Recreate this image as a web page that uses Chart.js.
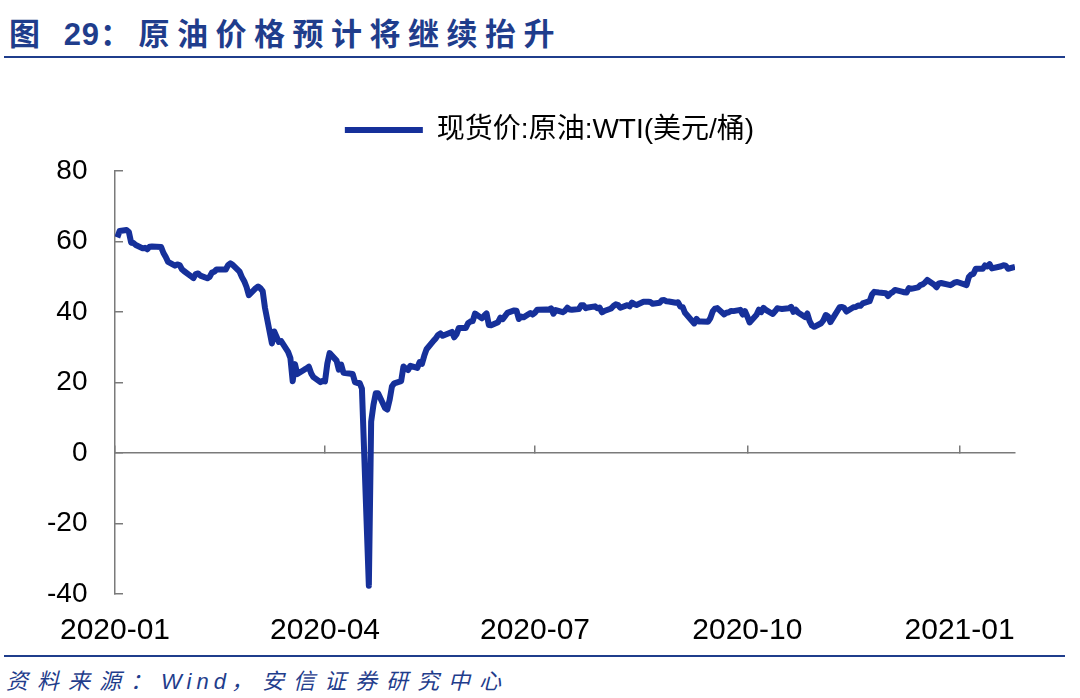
<!DOCTYPE html>
<html>
<head>
<meta charset="utf-8">
<script src="https://cdn.jsdelivr.net/npm/chart.js@4"></script>
<style>
  body { margin: 0; background: #fff; width: 1080px; height: 698px; position: relative; overflow: hidden; }
  #title { position: absolute; left: 9px; top: 9px; font: bold 31px "Liberation Sans", "Noto Sans CJK SC", sans-serif; color: #1f3d8c; letter-spacing: 7.5px; white-space: nowrap; }
  #title .num { letter-spacing: 1px; }
  .rule { position: absolute; left: 4px; width: 1061px; height: 2px; background: #1f3d8c; }
  #source { position: absolute; left: 6px; top: 663px; font: italic 22px "Liberation Sans", "Noto Sans CJK SC", sans-serif; color: #1f3d8c; letter-spacing: 9px; white-space: nowrap; }
  #source .en { letter-spacing: 5px; }
  #wrap { position: absolute; left: 0; top: 68px; width: 1080px; height: 582px; }
</style>
</head>
<body>
<div id="title">图 <span class="num">29</span>：原油价格预计将继续抬升</div>
<div class="rule" style="top:56px"></div>
<div id="wrap"><canvas id="oilChart"></canvas></div>
<div class="rule" style="top:655px"></div>
<div id="source">资料来源：<span class="en">Wind</span>，安信证券研究中心</div>

<script>
// 現貨價: 原油 WTI (美元/桶), 交易日
const dates = [
  '2020-01-02','2020-01-03','2020-01-06','2020-01-07','2020-01-08','2020-01-09','2020-01-10','2020-01-13','2020-01-14','2020-01-15','2020-01-16','2020-01-17','2020-01-21','2020-01-22','2020-01-23','2020-01-24','2020-01-27','2020-01-28','2020-01-29','2020-01-30','2020-01-31',
  '2020-02-03','2020-02-04','2020-02-05','2020-02-06','2020-02-07','2020-02-10','2020-02-11','2020-02-12','2020-02-13','2020-02-14','2020-02-18','2020-02-19','2020-02-20','2020-02-21','2020-02-24','2020-02-25','2020-02-26','2020-02-27','2020-02-28',
  '2020-03-02','2020-03-03','2020-03-04','2020-03-05','2020-03-06','2020-03-09','2020-03-10','2020-03-11','2020-03-12','2020-03-13','2020-03-16','2020-03-17','2020-03-18','2020-03-19','2020-03-20','2020-03-23','2020-03-24','2020-03-25','2020-03-26','2020-03-27','2020-03-30','2020-03-31',
  '2020-04-01','2020-04-02','2020-04-03','2020-04-06','2020-04-07','2020-04-08','2020-04-09','2020-04-13','2020-04-14','2020-04-15','2020-04-16','2020-04-17','2020-04-20','2020-04-21','2020-04-22','2020-04-23','2020-04-24','2020-04-27','2020-04-28','2020-04-29','2020-04-30',
  '2020-05-01','2020-05-04','2020-05-05','2020-05-06','2020-05-07','2020-05-08','2020-05-11','2020-05-12','2020-05-13','2020-05-14','2020-05-15','2020-05-18','2020-05-19','2020-05-20','2020-05-21','2020-05-22','2020-05-26','2020-05-27','2020-05-28','2020-05-29',
  '2020-06-01','2020-06-02','2020-06-03','2020-06-04','2020-06-05','2020-06-08','2020-06-09','2020-06-10','2020-06-11','2020-06-12','2020-06-15','2020-06-16','2020-06-17','2020-06-18','2020-06-19','2020-06-22','2020-06-23','2020-06-24','2020-06-25','2020-06-26','2020-06-29','2020-06-30',
  '2020-07-01','2020-07-02','2020-07-06','2020-07-07','2020-07-08','2020-07-09','2020-07-10','2020-07-13','2020-07-14','2020-07-15','2020-07-16','2020-07-17','2020-07-20','2020-07-21','2020-07-22','2020-07-23','2020-07-24','2020-07-27','2020-07-28','2020-07-29','2020-07-30','2020-07-31',
  '2020-08-03','2020-08-04','2020-08-05','2020-08-06','2020-08-07','2020-08-10','2020-08-11','2020-08-12','2020-08-13','2020-08-14','2020-08-17','2020-08-18','2020-08-19','2020-08-20','2020-08-21','2020-08-24','2020-08-25','2020-08-26','2020-08-27','2020-08-28','2020-08-31',
  '2020-09-01','2020-09-02','2020-09-03','2020-09-04','2020-09-08','2020-09-09','2020-09-10','2020-09-11','2020-09-14','2020-09-15','2020-09-16','2020-09-17','2020-09-18','2020-09-21','2020-09-22','2020-09-23','2020-09-24','2020-09-25','2020-09-28','2020-09-29','2020-09-30',
  '2020-10-01','2020-10-02','2020-10-05','2020-10-06','2020-10-07','2020-10-08','2020-10-09','2020-10-12','2020-10-13','2020-10-14','2020-10-15','2020-10-16','2020-10-19','2020-10-20','2020-10-21','2020-10-22','2020-10-23','2020-10-26','2020-10-27','2020-10-28','2020-10-29','2020-10-30',
  '2020-11-02','2020-11-03','2020-11-04','2020-11-05','2020-11-06','2020-11-09','2020-11-10','2020-11-11','2020-11-12','2020-11-13','2020-11-16','2020-11-17','2020-11-18','2020-11-19','2020-11-20','2020-11-23','2020-11-24','2020-11-25','2020-11-27','2020-11-30',
  '2020-12-01','2020-12-02','2020-12-03','2020-12-04','2020-12-07','2020-12-08','2020-12-09','2020-12-10','2020-12-11','2020-12-14','2020-12-15','2020-12-16','2020-12-17','2020-12-18','2020-12-21','2020-12-22','2020-12-23','2020-12-24','2020-12-28','2020-12-29','2020-12-30','2020-12-31',
  '2021-01-04','2021-01-05','2021-01-06','2021-01-07','2021-01-08','2021-01-11','2021-01-12','2021-01-13','2021-01-14','2021-01-15','2021-01-19','2021-01-20','2021-01-21','2021-01-22','2021-01-25'
];

const wti = [
  61.17, 63.00, 63.27, 62.70, 59.65, 59.56, 59.02, 58.06, 58.21, 57.78, 58.54, 58.58, 58.41, 56.73, 55.58, 54.21, 53.15, 53.49, 53.31, 52.15, 51.56,
  50.11, 49.61, 50.75, 50.95, 50.32, 49.57, 49.94, 51.17, 51.42, 52.05, 52.05, 53.29, 53.78, 53.38, 51.43, 49.90, 48.73, 47.09, 44.76,
  46.78, 47.23, 46.74, 45.93, 41.14, 31.05, 34.47, 32.98, 31.50, 31.73, 28.69, 26.95, 20.37, 25.22, 22.39, 23.64, 24.01, 24.49, 22.60, 21.51, 20.09, 20.48,
  20.31, 25.32, 28.34, 26.21, 23.63, 25.09, 22.76, 22.41, 20.11, 19.87, 19.87, 18.27, -37.63, 8.91, 13.64, 16.94, 16.94, 12.78, 12.34, 15.06, 18.84,
  19.78, 20.39, 24.56, 23.99, 23.55, 24.74, 24.14, 25.78, 25.29, 27.56, 29.43, 31.82, 32.50, 33.49, 33.92, 33.25, 34.35, 32.81, 33.71, 35.49,
  35.44, 36.81, 37.29, 37.41, 39.55, 38.19, 38.94, 39.60, 36.34, 36.26, 37.12, 38.38, 37.96, 38.84, 39.75, 40.46, 40.37, 38.01, 38.72, 38.49, 39.70, 39.27,
  39.82, 40.65, 40.73, 40.62, 41.04, 39.51, 40.55, 39.94, 40.38, 41.20, 40.72, 40.61, 40.82, 41.92, 41.90, 41.07, 41.29, 41.60, 41.04, 41.27, 39.92, 40.27,
  41.01, 41.70, 42.19, 41.95, 41.22, 41.94, 41.61, 42.67, 42.24, 42.01, 42.89, 42.89, 42.93, 42.82, 42.34, 42.62, 43.35, 43.39, 43.04, 42.97, 42.61,
  42.76, 41.51, 41.37, 39.77, 36.76, 38.05, 37.30, 37.33, 37.26, 38.28, 40.16, 40.97, 41.11, 39.31, 39.80, 39.93, 40.31, 40.25, 40.60, 39.29, 40.22,
  38.72, 37.05, 39.22, 40.67, 39.95, 41.19, 40.60, 39.43, 40.20, 41.04, 40.96, 40.88, 41.06, 41.46, 40.03, 40.64, 39.85, 38.56, 39.57, 37.39, 36.17, 35.79,
  36.81, 37.66, 39.15, 38.79, 37.14, 40.29, 41.36, 41.45, 41.12, 40.13, 41.34, 41.43, 41.82, 41.74, 42.42, 43.06, 44.91, 45.71, 45.53, 45.34,
  44.55, 45.28, 45.64, 46.26, 45.76, 45.60, 45.52, 46.78, 46.57, 46.99, 47.62, 47.82, 48.36, 49.10, 47.74, 47.02, 48.12, 48.23, 47.62, 48.00, 48.40, 48.52,
  47.62, 49.93, 50.63, 50.83, 52.24, 52.25, 53.21, 52.91, 53.57, 52.36, 52.98, 53.24, 53.13, 52.27, 52.77
];

// x 軸刻度 (季度)
const tickDates = ['2020-01-01', '2020-04-01', '2020-07-01', '2020-10-01', '2021-01-01'];
const tickLabels = ['2020-01', '2020-04', '2020-07', '2020-10', '2021-01'];
const yTicks = [-40, -20, 0, 20, 40, 60, 80];

const seriesLabel = '现货价:原油:WTI(美元/桶)';
const lineColor = '#16309a';
const axisColor = '#7a7a7a';

// 日期 -> 天數
const dayOf = (d) => (Date.parse(d) - Date.parse(tickDates[0])) / 86400000;
const points = dates.map((d, i) => ({ x: dayOf(d), y: wti[i] }));
const tickDays = tickDates.map(dayOf);
const xMax = dayOf(dates[dates.length - 1]);

const setQuarterTicks = (scale) => {
    scale.ticks = tickDays.map(v => ({ value: v }));
};

// legend 下方留白
const legendGap = {
    id: 'legendGap',
    beforeInit(chart) {
        const fit = chart.legend.fit;
        chart.legend.fit = function () {
            fit.call(this);
            this.height += 17;
        };
    }
};

const ctx = document.getElementById('oilChart').getContext('2d');

new Chart(ctx, {
    type: 'line',
    data: {
        datasets: [{
            label: seriesLabel,
            data: points,
            borderColor: lineColor,
            backgroundColor: lineColor,
            borderWidth: 6,
            borderJoinStyle: 'round',
            pointRadius: 0,
            tension: 0,
            fill: false,
            xAxisID: 'x'
        }]
    },
    plugins: [legendGap],
    options: {
        responsive: true,
        maintainAspectRatio: false,
        animation: false,
        layout: { padding: { top: 0, right: 65, left: 84, bottom: 0 } },
        plugins: {
            legend: {
                display: true,
                position: 'top',
                labels: {
                    color: '#000',
                    font: { family: '"Liberation Sans", "Noto Sans CJK SC", sans-serif', size: 28 },
                    boxWidth: 78,
                    boxHeight: 6,
                    padding: 48,
                    generateLabels: (chart) => {
                        const items = Chart.defaults.plugins.legend.labels.generateLabels(chart);
                        items.forEach(it => { it.lineWidth = 0; it.fillStyle = lineColor; });
                        return items;
                    }
                }
            },
            tooltip: { enabled: false }
        },
        scales: {
            x: {
                type: 'linear',
                position: 'bottom',
                min: 0,
                max: xMax,
                afterBuildTicks: setQuarterTicks,
                afterFit: (scale) => { scale.height = 56; },
                grid: { display: false, drawTicks: false },
                border: { display: false },
                ticks: {
                    color: '#000',
                    padding: 19,
                    maxRotation: 0,
                    autoSkip: false,
                    font: { family: '"Liberation Sans", sans-serif', size: 30 },
                    callback: (v) => tickLabels[tickDays.indexOf(v)]
                }
            },
            // 0 軸線與刻度
            xZero: {
                type: 'linear',
                position: { y: 0 },
                min: 0,
                max: xMax,
                afterBuildTicks: setQuarterTicks,
                grid: { drawOnChartArea: false, drawTicks: true, tickLength: -8, color: axisColor, lineWidth: 1.5 },
                border: { display: true, color: axisColor, width: 1.5 },
                ticks: { display: false }
            },
            y: {
                min: -40,
                max: 80,
                afterBuildTicks: (scale) => { scale.ticks = yTicks.map(v => ({ value: v })); },
                afterFit: (scale) => { scale.width = 31; },
                grid: { drawOnChartArea: false, drawTicks: true, tickLength: -8, color: axisColor, lineWidth: 1.5 },
                border: { display: true, color: axisColor, width: 1.5 },
                ticks: {
                    color: '#000',
                    mirror: true,
                    crossAlign: 'far',
                    padding: -68,
                    font: { family: '"Liberation Sans", sans-serif', size: 28 }
                }
            }
        }
    }
});
</script>
</body>
</html>
